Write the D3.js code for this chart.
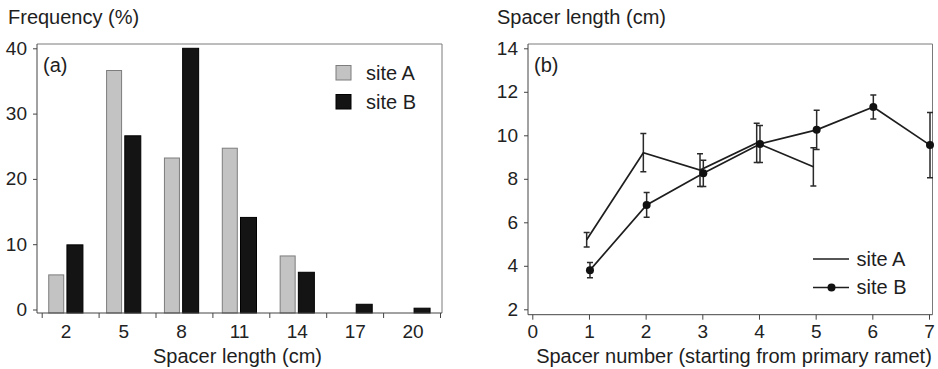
<!DOCTYPE html>
<html>
<head>
<meta charset="utf-8">
<script src="https://cdn.jsdelivr.net/npm/d3@7"></script>
<style>
  body { margin: 0; background: #fff; }
  svg { display: block; font-family: "Liberation Sans", Arial, sans-serif; }
  .tick text { font-size: 19px; fill: #222; }
</style>
</head>
<body>
<svg id="chart" width="938" height="369"></svg>
<script>
// panel (a): frequency of spacer length classes
var lengthClasses = [2, 5, 8, 11, 14, 17, 20];
var freqSiteA = [5.3, 36.6, 23.2, 24.7, 8.2, 0, 0];
var freqSiteB = [9.9, 26.6, 40, 14.1, 5.7, 0.8, 0.2];
var freqTicks = [0, 10, 20, 30, 40];

// panel (b): mean spacer length (+/- SE) by spacer number
var spacerNumbers = [1, 2, 3, 4, 5, 6, 7];
var lenSiteA = [5.2, 9.2, 8.4, 9.65, 8.55];
var errSiteA = [0.33, 0.88, 0.75, 0.9, 0.88];
var lenSiteB = [3.8, 6.8, 8.25, 9.6, 10.25, 11.3, 9.55];
var errSiteB = [0.35, 0.57, 0.6, 0.85, 0.9, 0.55, 1.5];
var lenTicks = [2, 4, 6, 8, 10, 12, 14];
var numTicks = [0, 1, 2, 3, 4, 5, 6, 7];

var svg = d3.select('#chart');
var frameColor = '#7a7a7a', axisColor = '#444', ink = '#1e1e1e';
var titleSize = 20;

/* ---------- panel (a) ---------- */
var boxA = {left: 37, right: 442, top: 44, bottom: 313};
var gA = svg.append('g');

var xBand = d3.scaleBand()
    .domain(lengthClasses)
    .range([boxA.left, boxA.right]);
var xTickA = d3.scaleLinear()    // category separators
    .domain([0, lengthClasses.length])
    .range([41.7, 440]);
var yA = d3.scaleLinear()
    .domain([0, 40])
    .range([309.5, 48.3]);

// frame
gA.append('path')
    .attr('d', 'M' + boxA.left + ',' + boxA.top + 'H' + boxA.right + 'V' + boxA.bottom)
    .attr('fill', 'none').attr('stroke', frameColor).attr('stroke-width', 1);

var barW = 15;
// site A bars (grey)
gA.selectAll('.barA')
    .data(lengthClasses.map(function(c, i) { return {c: c, v: freqSiteA[i]}; }).filter(function(d) { return d.v > 0; }))
    .enter()
    .append('rect')
    .attr('class', 'barA')
    .attr('x', function(d) { return xBand(d.c) + xBand.bandwidth() / 2 - 17.2; })
    .attr('y', function(d) { return yA(d.v); })
    .attr('width', barW)
    .attr('height', function(d) { return boxA.bottom - yA(d.v); })
    .attr('fill', '#c3c3c3')
    .attr('stroke', '#7d7d7d')
    .attr('stroke-width', 1);

// site B bars (black)
gA.selectAll('.barB')
    .data(lengthClasses.map(function(c, i) { return {c: c, v: freqSiteB[i]}; }).filter(function(d) { return d.v > 0; }))
    .enter()
    .append('rect')
    .attr('class', 'barB')
    .attr('x', function(d) { return xBand(d.c) + xBand.bandwidth() / 2 + 1; })
    .attr('y', function(d) { return yA(d.v); })
    .attr('width', barW + 1)
    .attr('height', function(d) { return boxA.bottom - yA(d.v); })
    .attr('fill', '#141414')
    .attr('stroke', '#000')
    .attr('stroke-width', 1);

// y axis
var yAxisA = gA.append('g')
    .attr('transform', 'translate(' + boxA.left + ',0)')
    .call(d3.axisLeft(yA).tickValues(freqTicks).tickSize(4).tickPadding(6).tickSizeOuter(0));
yAxisA.select('.domain').remove();
gA.append('line')
    .attr('x1', boxA.left).attr('x2', boxA.left)
    .attr('y1', boxA.top).attr('y2', boxA.bottom)
    .attr('stroke', axisColor);

// x axis: tick marks at class borders, labels at class centres
var xAxisA = gA.append('g')
    .attr('transform', 'translate(0,' + boxA.bottom + ')')
    .call(d3.axisBottom(xTickA).tickValues(d3.range(lengthClasses.length + 1)).tickSize(5).tickFormat(''));
xAxisA.select('.domain').remove();
gA.append('line')
    .attr('x1', boxA.left).attr('x2', boxA.right)
    .attr('y1', boxA.bottom).attr('y2', boxA.bottom)
    .attr('stroke', axisColor);
var xLabA = gA.append('g')
    .attr('transform', 'translate(0,' + boxA.bottom + ')')
    .call(d3.axisBottom(xBand).tickSize(0).tickPadding(11.5));
xLabA.select('.domain').remove();

svg.selectAll('.tick line').attr('stroke', axisColor);

// texts
gA.append('text').attr('x', 8).attr('y', 23.5)
    .attr('font-size', titleSize).attr('fill', ink).text('Frequency (%)');
gA.append('text').attr('x', 237.5).attr('y', 362.5).attr('text-anchor', 'middle')
    .attr('font-size', titleSize).attr('fill', ink).text('Spacer length (cm)');
gA.append('text').attr('x', 43).attr('y', 72)
    .attr('font-size', titleSize).attr('fill', ink).text('(a)');

// legend (a)
var legA = gA.append('g');
var legItemsA = [{name: 'site A', fill: '#c3c3c3', stroke: '#7d7d7d'}, {name: 'site B', fill: '#141414', stroke: '#000'}];
legA.selectAll('rect')
    .data(legItemsA)
    .enter()
    .append('rect')
    .attr('x', 336)
    .attr('y', function(d, i) { return 65.5 + i * 29; })
    .attr('width', 15).attr('height', 14.5)
    .attr('fill', function(d) { return d.fill; })
    .attr('stroke', function(d) { return d.stroke; });
legA.selectAll('text')
    .data(legItemsA)
    .enter()
    .append('text')
    .attr('x', 366)
    .attr('y', function(d, i) { return 79.5 + i * 29; })
    .attr('font-size', titleSize).attr('fill', ink)
    .text(function(d) { return d.name; });

/* ---------- panel (b) ---------- */
var boxB = {left: 528, right: 932.5, top: 44, bottom: 314.7};
var gB = svg.append('g');

var xB = d3.scaleLinear().domain([0, 7]).range([532.3, 929]);
var yB = d3.scaleLinear().domain([2, 14]).range([309.3, 48.3]);

gB.append('path')
    .attr('d', 'M' + boxB.left + ',' + boxB.top + 'H' + boxB.right + 'V' + boxB.bottom)
    .attr('fill', 'none').attr('stroke', frameColor).attr('stroke-width', 1);

var yAxisB = gB.append('g')
    .attr('transform', 'translate(' + boxB.left + ',0)')
    .call(d3.axisLeft(yB).tickValues(lenTicks).tickSize(4).tickPadding(6));
yAxisB.select('.domain').remove();
gB.append('line')
    .attr('x1', boxB.left).attr('x2', boxB.left)
    .attr('y1', boxB.top).attr('y2', boxB.bottom)
    .attr('stroke', axisColor);

var xAxisB = gB.append('g')
    .attr('transform', 'translate(0,' + boxB.bottom + ')')
    .call(d3.axisBottom(xB).tickValues(numTicks).tickFormat(d3.format('d')).tickSize(5).tickPadding(5));
xAxisB.select('.domain').remove();
gB.append('line')
    .attr('x1', boxB.left).attr('x2', boxB.right)
    .attr('y1', boxB.bottom).attr('y2', boxB.bottom)
    .attr('stroke', axisColor);
gB.selectAll('.tick line').attr('stroke', axisColor);

// series
var seriesB = [
    {name: 'site A', vals: lenSiteA, errs: errSiteA, dx: -2.3, marker: false},
    {name: 'site B', vals: lenSiteB, errs: errSiteB, dx: 1, marker: true}
];

var line = d3.line()
    .x(function(d) { return d.x; })
    .y(function(d) { return d.y; });

seriesB.forEach(function(s) {
    var pts = s.vals.map(function(v, i) {
        return {x: xB(spacerNumbers[i]) + s.dx, y: yB(v), lo: yB(v - s.errs[i]), hi: yB(v + s.errs[i])};
    });
    var g = gB.append('g');
    // error bars
    g.selectAll('.err')
        .data(pts)
        .enter()
        .append('path')
        .attr('d', function(d) {
            return 'M' + (d.x - 3) + ',' + d.hi + 'H' + (d.x + 3) +
                'M' + d.x + ',' + d.hi + 'V' + d.lo +
                'M' + (d.x - 3) + ',' + d.lo + 'H' + (d.x + 3);
        })
        .attr('fill', 'none').attr('stroke', '#2a2a2a').attr('stroke-width', 1.5);
    g.append('path')
        .datum(pts)
        .attr('d', line)
        .attr('fill', 'none').attr('stroke', '#1e1e1e').attr('stroke-width', 1.7);
    if (s.marker) {
        g.selectAll('circle')
            .data(pts)
            .enter()
            .append('circle')
            .attr('cx', function(d) { return d.x; })
            .attr('cy', function(d) { return d.y; })
            .attr('r', 4)
            .attr('fill', '#111');
    }
});

gB.append('text').attr('x', 497).attr('y', 23.5)
    .attr('font-size', titleSize).attr('fill', ink).text('Spacer length (cm)');
gB.append('text').attr('x', 734).attr('y', 362.5).attr('text-anchor', 'middle')
    .attr('font-size', titleSize).attr('fill', ink).text('Spacer number (starting from primary ramet)');
gB.append('text').attr('x', 534).attr('y', 72)
    .attr('font-size', titleSize).attr('fill', ink).text('(b)');

// legend (b)
var legB = gB.append('g');
legB.selectAll('line')
    .data(seriesB)
    .enter()
    .append('line')
    .attr('x1', 813).attr('x2', 849)
    .attr('y1', function(d, i) { return 259 + i * 28.5; })
    .attr('y2', function(d, i) { return 259 + i * 28.5; })
    .attr('stroke', '#1e1e1e').attr('stroke-width', 1.7);
legB.selectAll('circle')
    .data(seriesB.filter(function(d) { return d.marker; }))
    .enter()
    .append('circle')
    .attr('cx', 831.5).attr('cy', 287.5).attr('r', 4).attr('fill', '#111');
legB.selectAll('text')
    .data(seriesB)
    .enter()
    .append('text')
    .attr('x', 856.5)
    .attr('y', function(d, i) { return 265.5 + i * 28.5; })
    .attr('font-size', titleSize).attr('fill', ink)
    .text(function(d) { return d.name; });
</script>
</body>
</html>
